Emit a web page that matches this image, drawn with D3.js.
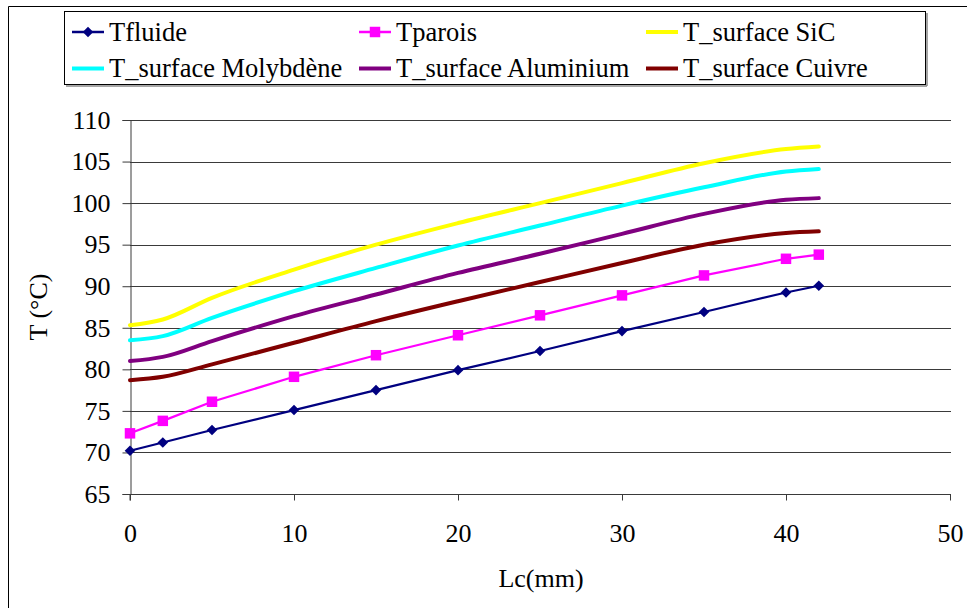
<!DOCTYPE html>
<html><head><meta charset="utf-8">
<script src="https://cdn.jsdelivr.net/npm/d3@7"></script>
<style>body{margin:0;background:#fff}svg{display:block}</style>
</head><body><svg id="c" width="967" height="608"></svg>
<script>
const xValues = [0, 2, 5, 10, 15, 20, 25, 30, 35, 40, 42];
const tFluide = [70.2, 71.2, 72.7, 75.1, 77.5, 79.9, 82.2, 84.6, 86.9, 89.25, 90.06];
const tParois = [72.3, 73.8, 76.1, 79.1, 81.7, 84.1, 86.5, 88.9, 91.3, 93.3, 93.8];
const tSiC = [85.3, 86.0, 88.6, 92.0, 95.0, 97.6, 100.0, 102.4, 104.8, 106.5, 106.8];
const tMolybdene = [83.5, 84.0, 86.2, 89.4, 92.2, 94.9, 97.3, 99.7, 101.9, 103.8, 104.1];
const tAluminium = [81.0, 81.5, 83.4, 86.4, 89.0, 91.6, 93.9, 96.3, 98.7, 100.4, 100.6];
const tCuivre = [78.7, 79.1, 80.6, 83.2, 85.8, 88.2, 90.5, 92.8, 95.0, 96.4, 96.6];
const seriesNames = ["Tfluide", "Tparois", "T_surface SiC", "T_surface Molybdène", "T_surface Aluminium", "T_surface Cuivre"];
const yTicks = [65, 70, 75, 80, 85, 90, 95, 100, 105, 110];
const xTicks = [0, 10, 20, 30, 40, 50];

const FONT = "Liberation Serif";

const series = [
  {name: seriesNames[0], vals: tFluide, color: "#000080", w: 2.2, marker: "diamond"},
  {name: seriesNames[1], vals: tParois, color: "#FF00FF", w: 2.2, marker: "square"},
  {name: seriesNames[2], vals: tSiC, color: "#FFFF00", w: 4, smooth: true},
  {name: seriesNames[3], vals: tMolybdene, color: "#00FFFF", w: 4, smooth: true},
  {name: seriesNames[4], vals: tAluminium, color: "#800080", w: 4, smooth: true},
  {name: seriesNames[5], vals: tCuivre, color: "#800000", w: 4, smooth: true}
];

const svg = d3.select("#c");
svg.append("path").attr("d","M8.5,608 V6.5 H967").attr("fill","none").attr("stroke","#000").attr("stroke-width",1);

const x = d3.scaleLinear().domain([0,50]).range([130,950]);
const y = d3.scaleLinear().domain([65,110]).range([494,120]);

svg.append("g").selectAll("line").data(yTicks).join("line")
  .attr("x1",130).attr("x2",951).attr("y1",d=>Math.round(y(d))+0.5).attr("y2",d=>Math.round(y(d))+0.5)
  .attr("stroke","#3a3a3a").attr("stroke-width",1);

const yAxis = d3.axisLeft(y).tickValues(yTicks).tickSize(8).tickPadding(12);
const gy = svg.append("g").attr("transform","translate(130.5,0)").call(yAxis);
gy.selectAll("text").attr("fill","#000").attr("font-family",FONT).attr("font-size",26);
gy.select(".domain").attr("stroke","#3a3a3a");
gy.selectAll(".tick line").attr("stroke","#3a3a3a");

const xAxis = d3.axisBottom(x).tickValues(xTicks).tickSize(6).tickPadding(23);
const gx = svg.append("g").attr("transform","translate(0,494.5)").call(xAxis);
gx.selectAll("text").attr("fill","#000").attr("font-family",FONT).attr("font-size",26);
gx.select(".domain").attr("stroke","#3a3a3a").attr("d","M130,6V0H951");
gx.selectAll(".tick line").attr("stroke","#3a3a3a");

svg.append("text").attr("x",541).attr("y",587).attr("text-anchor","middle")
  .attr("font-family",FONT).attr("font-size",26).text("Lc(mm)");
svg.append("text").attr("transform","translate(47,307) rotate(-90)").attr("text-anchor","middle")
  .attr("font-family",FONT).attr("font-size",26).text("T (°C)");

const lineStraight = d3.line().x(d=>x(d[0])).y(d=>y(d[1]));
const lineSmooth = d3.line().x(d=>x(d[0])).y(d=>y(d[1])).curve(d3.curveMonotoneX);
const plot = svg.append("g");
series.slice().reverse().forEach(s=>{
  const pts = xValues.map((xv,i)=>[xv, s.vals[i]]);
  plot.append("path").attr("d",(s.smooth?lineSmooth:lineStraight)(pts))
    .attr("fill","none").attr("stroke",s.color).attr("stroke-width",s.w)
    .attr("stroke-linejoin","round").attr("stroke-linecap","round");
  if (s.marker) {
    plot.append("g").selectAll("path").data(pts).join("path")
      .attr("d", s.marker==="diamond" ? d3.symbol(d3.symbolSquare, 56)() : d3.symbol(d3.symbolSquare, 110)())
      .attr("transform",d=>`translate(${x(d[0])},${y(d[1])})` + (s.marker==="diamond"?" rotate(45)":""))
      .attr("fill",s.color);
  }
});

const lg = svg.append("g");
lg.append("rect").attr("x",64.5).attr("y",11.5).attr("width",861).attr("height",73).attr("fill","#fff").attr("stroke","#000").attr("stroke-width",1);
lg.append("line").attr("x1",66).attr("x2",927).attr("y1",86).attr("y2",86).attr("stroke","#888").attr("stroke-width",1.5);
lg.append("line").attr("x1",927).attr("x2",927).attr("y1",13).attr("y2",86).attr("stroke","#888").attr("stroke-width",1.5);
const colX = [72, 359, 646];
const rowY = [32, 68.5];
series.forEach((s,i)=>{
  const cx = colX[i%3], cy = rowY[Math.floor(i/3)];
  const g = lg.append("g");
  g.append("line").attr("x1",cx).attr("x2",cx+32).attr("y1",cy).attr("y2",cy)
    .attr("stroke",s.color).attr("stroke-width",s.marker?2.5:4);
  if (s.marker) {
    g.append("path").attr("d", s.marker==="diamond"?d3.symbol(d3.symbolSquare,56)():d3.symbol(d3.symbolSquare,110)())
      .attr("transform",`translate(${cx+16},${cy})`+(s.marker==="diamond"?" rotate(45)":""))
      .attr("fill",s.color);
  }
  g.append("text").attr("x",cx+37).attr("y",cy+8.7).attr("font-family",FONT).attr("font-size",26.5).attr("fill","#000").text(s.name);
});
</script></body></html>
